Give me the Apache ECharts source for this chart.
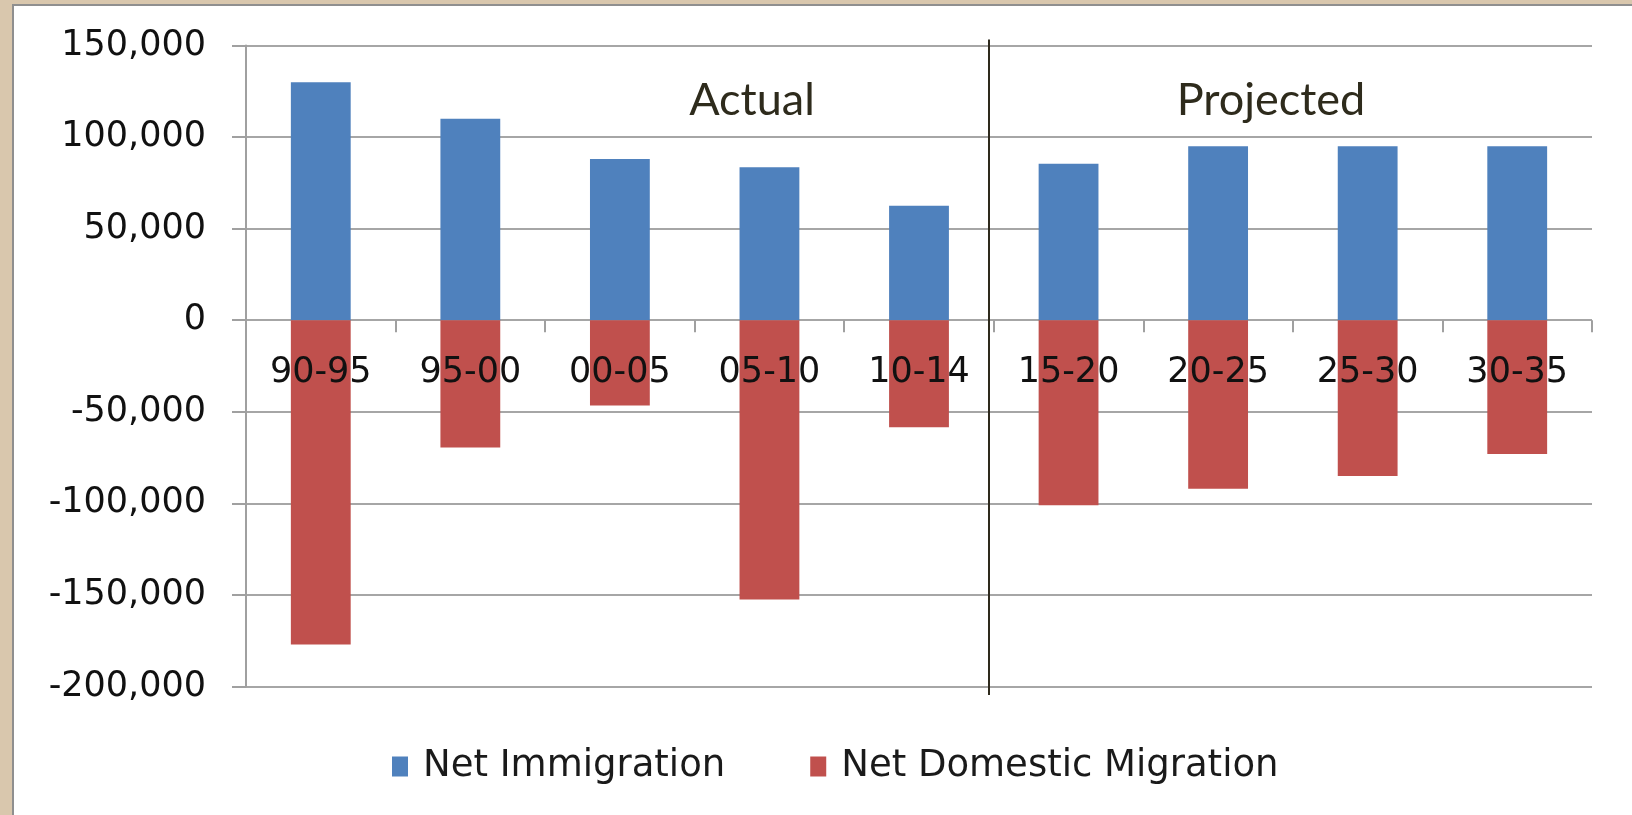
<!DOCTYPE html>
<html>
<head>
<meta charset="utf-8">
<script src="https://cdn.jsdelivr.net/npm/echarts@6/dist/echarts.min.js"></script>
<style>
  html, body { margin: 0; padding: 0; width: 1632px; height: 815px; overflow: hidden; background: #d9c7ad; }
  #panel { position: absolute; left: 12px; top: 4px; width: 1620px; height: 811px; background: #ffffff; border-left: 2px solid #8f8f8f; border-top: 2px solid #8f8f8f; box-sizing: border-box; }
  #chart { position: absolute; left: 0; top: 0; width: 1632px; height: 815px; }
</style>
</head>
<body>
<div id="panel"></div>
<div id="chart"></div>
<script>
const categories = ['90-95', '95-00', '00-05', '05-10', '10-14', '15-20', '20-25', '25-30', '30-35'];
const netImmigration = [130000, 110000, 88000, 83500, 62500, 85500, 95000, 95000, 95000];
const netDomesticMigration = [-177000, -69500, -46500, -152500, -58500, -101000, -92000, -85000, -73000];
const yTicks = { min: -200000, max: 150000, interval: 50000 };
const periodLabels = ['Actual', 'Projected'];

const gridTop = 45.5, gridHeight = 641;
// x axis sits at value 0: distance from the bottom of the plot to the zero line
const zeroOffset = -gridHeight * (0 - yTicks.min) / (yTicks.max - yTicks.min);

const chart = echarts.init(document.getElementById('chart'), null, { renderer: 'canvas' });

const fmt = v => v === 0 ? '0' : (v < 0 ? '-' : '') + Math.abs(v).toLocaleString('en-US');

chart.setOption({
  animation: false,
  backgroundColor: 'transparent',
  grid: { left: 246, top: gridTop, width: 1346, height: gridHeight, containLabel: false },
  legend: {
    data: ['Net Immigration', 'Net Domestic Migration'],
    left: 387, top: 743,
    itemWidth: 16, itemHeight: 20, itemGap: 85,
    icon: 'rect',
    textStyle: { fontFamily: 'DejaVu Sans', fontSize: 37, color: '#1a1a1a', padding: [0, 0, 0, 10] }
  },
  xAxis: {
    type: 'category',
    data: categories,
    z: 3,
    position: 'bottom',
    offset: zeroOffset,
    axisLine: { show: true, onZero: false, lineStyle: { color: '#a6a6a6', width: 2, opacity: 0 } },
    axisTick: { show: true, length: 12, lineStyle: { color: '#a0a0a0', width: 2 } },
    axisLabel: { fontFamily: 'DejaVu Sans', fontSize: 35, color: '#111111', margin: 35, interval: 0 },
    splitLine: { show: false }
  },
  yAxis: {
    type: 'value',
    min: yTicks.min, max: yTicks.max, interval: yTicks.interval,
    axisLine: { show: true, lineStyle: { color: '#a0a0a0', width: 2 } },
    axisTick: { show: true, length: 14, lineStyle: { color: '#a0a0a0', width: 2 } },
    axisLabel: { fontFamily: 'DejaVu Sans', fontSize: 35, color: '#111111', margin: 40, formatter: fmt },
    splitLine: { show: true, lineStyle: { color: '#a6a6a6', width: 2 } }
  },
  series: [
    { name: 'Net Immigration', type: 'bar', data: netImmigration, barWidth: '40%', barGap: '-100%',
      itemStyle: { color: '#4f81bd' } },
    { name: 'Net Domestic Migration', type: 'bar', data: netDomesticMigration, barWidth: '40%', barGap: '-100%',
      itemStyle: { color: '#c0504d' } }
  ],
  graphic: [
    { type: 'line', z: 10, shape: { x1: 989, y1: 39.5, x2: 989, y2: 695 }, style: { stroke: '#2e2a1c', lineWidth: 2 } },
    { type: 'text', z: 10, x: 752, y: 100, style: { text: periodLabels[0], font: '45px Lato', fill: '#2e2b1c', textAlign: 'center', textVerticalAlign: 'middle' } },
    { type: 'text', z: 10, x: 1271, y: 100, style: { text: periodLabels[1], font: '45px Lato', fill: '#2e2b1c', textAlign: 'center', textVerticalAlign: 'middle' } }
  ]
});
</script>
</body>
</html>
